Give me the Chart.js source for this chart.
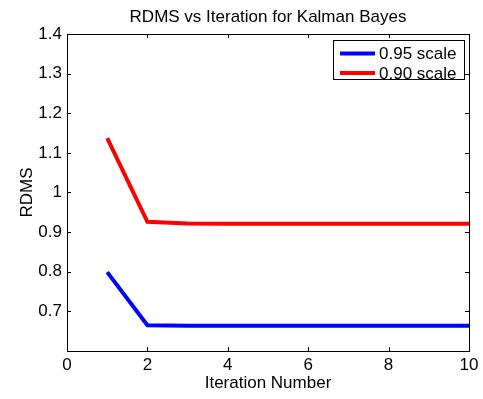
<!DOCTYPE html>
<html>
<head>
<meta charset="utf-8">
<script src="https://cdn.jsdelivr.net/npm/chart.js@4/dist/chart.umd.min.js"></script>
<style>
  html, body { margin: 0; padding: 0; background: #fff; }
  #wrap { width: 483px; height: 399px; }
</style>
</head>
<body>
<div id="wrap"><canvas id="c" width="483" height="399"></canvas></div>
<script>
// RDMS per iteration for two scale factors
const iterations = [1, 2, 3, 4, 5, 6, 7, 8, 9, 10];
const rdms095 = [0.799, 0.665, 0.664, 0.664, 0.664, 0.664, 0.664, 0.664, 0.664, 0.664];
const rdms090 = [1.137, 0.926, 0.922, 0.921, 0.921, 0.921, 0.921, 0.921, 0.921, 0.921];
const seriesLabels = ['0.95 scale', '0.90 scale'];
const xTicks = [0, 2, 4, 6, 8, 10];
const yTicks = [0.7, 0.8, 0.9, 1.0, 1.1, 1.2, 1.3, 1.4];
const chartTitle = 'RDMS vs Iteration for Kalman Bayes';
const xTitle = 'Iteration Number';
const yTitle = 'RDMS';

const FONT = '"Liberation Sans", Arial, Helvetica, sans-serif';
const FS = 17;

const toPoints = (ys) => iterations.map((x, i) => ({ x, y: ys[i] }));

// Box around the axes, inward ticks on all four sides, title and legend
const matlabFrame = {
  id: 'matlabFrame',
  afterDatasetsDraw(chart) {
    const { ctx, chartArea: a, scales } = chart;
    const xs = scales.x, ys = scales.y;
    const tl = 4;
    ctx.save();
    ctx.strokeStyle = '#000';
    ctx.lineWidth = 1;
    ctx.beginPath();
    xTicks.forEach(v => {
      const px = Math.round(xs.getPixelForValue(v)) + 0.5;
      ctx.moveTo(px, a.bottom); ctx.lineTo(px, a.bottom - tl);
      ctx.moveTo(px, a.top); ctx.lineTo(px, a.top + tl);
    });
    yTicks.forEach(v => {
      const py = Math.round(ys.getPixelForValue(v)) + 0.5;
      ctx.moveTo(a.left, py); ctx.lineTo(a.left + tl, py);
      ctx.moveTo(a.right, py); ctx.lineTo(a.right - tl, py);
    });
    ctx.stroke();
    ctx.strokeRect(Math.round(a.left) + 0.5, Math.round(a.top) + 0.5,
                   Math.round(a.right - a.left), Math.round(a.bottom - a.top));

    // title
    ctx.fillStyle = '#000';
    ctx.font = FS + 'px ' + FONT;
    ctx.textAlign = 'center';
    ctx.textBaseline = 'alphabetic';
    ctx.fillText(chartTitle, (a.left + a.right) / 2, 22);

    // legend
    const bx = 333, by = 40, bw = 131, bh = 39;
    ctx.fillStyle = '#fff';
    ctx.fillRect(bx, by, bw, bh);
    ctx.strokeRect(bx + 0.5, by + 0.5, bw, bh);
    ctx.textBaseline = 'middle';
    chart.data.datasets.forEach((ds, i) => {
      const cy = by + 13.5 + i * 19.5;
      ctx.strokeStyle = ds.borderColor;
      ctx.lineWidth = 4;
      ctx.beginPath();
      ctx.moveTo(340, cy); ctx.lineTo(375, cy);
      ctx.stroke();
      ctx.fillStyle = '#000';
      ctx.textAlign = 'left';
      ctx.fillText(ds.label, 379, cy + 1);
    });
    ctx.restore();
  }
};

new Chart(document.getElementById('c'), {
  type: 'line',
  data: {
    datasets: [
      { label: seriesLabels[0], data: toPoints(rdms095), borderColor: '#0000ff', borderWidth: 4, pointRadius: 0, tension: 0, fill: false },
      { label: seriesLabels[1], data: toPoints(rdms090), borderColor: '#ff0000', borderWidth: 4, pointRadius: 0, tension: 0, fill: false }
    ]
  },
  options: {
    responsive: false,
    animation: false,
    devicePixelRatio: 1,
    layout: { padding: { left: 0, right: 14, top: 34, bottom: 0 } },
    plugins: { legend: { display: false }, title: { display: false }, tooltip: { enabled: false } },
    scales: {
      x: {
        type: 'linear', min: 0, max: 10,
        afterBuildTicks: (s) => { s.ticks = xTicks.map(v => ({ value: v })); },
        afterFit: (s) => { s.height = 48; },
        grid: { display: false, drawTicks: false },
        border: { display: false },
        ticks: { color: '#000', font: { family: FONT, size: FS }, padding: 4, maxRotation: 0, autoSkip: false },
        title: { display: true, text: xTitle, color: '#000', font: { family: FONT, size: FS }, padding: { top: 0, bottom: 5 } }
      },
      y: {
        type: 'linear', min: 0.6, max: 1.4,
        afterBuildTicks: (s) => { s.ticks = yTicks.map(v => ({ value: v })); },
        afterFit: (s) => { s.width = 67; },
        grid: { display: false, drawTicks: false },
        border: { display: false },
        ticks: { color: '#000', font: { family: FONT, size: FS }, padding: 5, autoSkip: false,
                 callback: (v) => String(Math.round(v * 10) / 10) },
        title: { display: true, text: yTitle, color: '#000', font: { family: FONT, size: FS }, padding: { top: 17, bottom: 0 } }
      }
    }
  },
  plugins: [matlabFrame]
});
</script>
</body>
</html>
